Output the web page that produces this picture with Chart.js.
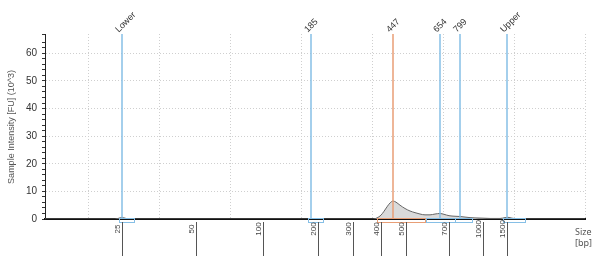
<!DOCTYPE html>
<html>
<head>
<meta charset="utf-8">
<script src="https://cdn.jsdelivr.net/npm/chart.js@4.4.0/dist/chart.umd.min.js"></script>
<style>
  html, body { margin: 0; padding: 0; background: #fff; }
</style>
</head>
<body>
<canvas id="chart" width="592" height="256"></canvas>
<script>
// run position (arbitrary units) vs intensity (10^3 FU)
const traceX = [0, 70, 74, 77, 80, 84, 200, 328, 332, 336, 339, 342, 345, 348, 351, 355, 360, 365, 370, 375, 380, 385, 390, 395, 399, 404, 410, 415, 420, 425, 430, 438, 445, 455, 460, 463, 467, 475, 540];
const traceY = [0, 0, 0.3, 0.6, 0.3, 0, 0, 0, 0.4, 1.4, 2.8, 4.4, 5.8, 6.5, 6.1, 5.0, 3.8, 2.9, 2.3, 1.8, 1.5, 1.5, 1.8, 2.0, 1.7, 1.2, 1.0, 0.9, 0.7, 0.5, 0.4, 0.3, 0.2, 0.2, 0.5, 0.6, 0.3, 0, 0];

const markerNames = ["Lower", "185", "447", "654", "799", "Upper"];
const markerPos = [77, 266, 348, 395, 415, 462];

const sizeLabels = [25, 50, 100, 200, 300, 400, 500, 700, 1000, 1500];
const sizePos = [77, 151, 218, 273, 308, 336, 361, 404, 438, 462];

const gridPos = [43, 114, 185, 256, 327, 398, 469, 540];

const regionStart = [74, 263, 332, 381, 410, 458];
const regionEnd = [89, 278, 380, 410, 427, 480];

const BLUE = "#86bfe6";
const ORANGE = "#e89e76";
const markerColor = i => (markerNames[i] === "447" ? ORANGE : BLUE);

const markerSets = markerPos.map((p, i) => ({
  label: markerNames[i],
  data: [{ x: p, y: 0 }, { x: p, y: 67 }],
  borderColor: markerColor(i),
  borderWidth: 1.5,
  pointRadius: 0,
  fill: false,
  order: 0
}));

const overlay = {
  id: "overlay",
  afterDatasetsDraw(chart) {
    const { ctx, chartArea } = chart;
    const xs = chart.scales.x;
    const base = chartArea.bottom;
    ctx.save();

    // peak regions under the baseline
    regionStart.forEach((s, i) => {
      const x1 = xs.getPixelForValue(s), x2 = xs.getPixelForValue(regionEnd[i]);
      ctx.strokeStyle = markerColor(i);
      ctx.lineWidth = 1;
      ctx.strokeRect(Math.round(x1) + 0.5, base - 0.5, Math.round(x2 - x1), 4);
    });

    // size ladder ticks
    ctx.font = "8px 'Liberation Sans', Arial, sans-serif";
    ctx.fillStyle = "#444";
    ctx.strokeStyle = "#555";
    sizePos.forEach((p, i) => {
      const x = Math.round(xs.getPixelForValue(p)) + 0.5;
      ctx.beginPath();
      ctx.moveTo(x, base + 3);
      ctx.lineTo(x, 256);
      ctx.stroke();
      ctx.save();
      ctx.translate(x - 5, 229);
      ctx.rotate(-Math.PI / 2);
      ctx.textAlign = "center";
      ctx.textBaseline = "middle";
      ctx.fillText(String(sizeLabels[i]), 0, 0);
      ctx.restore();
    });

    // marker labels at top
    ctx.font = "9px 'Liberation Sans', Arial, sans-serif";
    ctx.fillStyle = "#333";
    markerPos.forEach((p, i) => {
      const x = xs.getPixelForValue(p);
      ctx.save();
      ctx.translate(x - 5, chartArea.top - 3);
      ctx.rotate(-Math.PI / 4);
      ctx.textAlign = "left";
      ctx.textBaseline = "middle";
      ctx.fillText(markerNames[i], 0, 0);
      ctx.restore();
    });

    // y title
    ctx.save();
    ctx.font = "9px 'Liberation Sans', Arial, sans-serif";
    ctx.fillStyle = "#555";
    ctx.translate(12, 127);
    ctx.rotate(-Math.PI / 2);
    ctx.textAlign = "center";
    ctx.textBaseline = "middle";
    ctx.fillText("Sample Intensity [FU] (10^3)", 0, 0);
    ctx.restore();

    // x unit
    ctx.font = "9px 'Noto Sans', 'Open Sans', sans-serif";
    ctx.fillStyle = "#555";
    ctx.textAlign = "left";
    ctx.textBaseline = "middle";
    ctx.fillText("Size", 575, 232);
    ctx.fillText("[bp]", 575, 243);
    ctx.restore();
  }
};

new Chart(document.getElementById("chart"), {
  type: "line",
  data: {
    datasets: [
      ...markerSets,
      {
        label: "Sample",
        data: traceX.map((x, i) => ({ x, y: traceY[i] })),
        borderColor: "#666",
        borderWidth: 1,
        backgroundColor: "#dadada",
        fill: "origin",
        pointRadius: 0,
        cubicInterpolationMode: "monotone",
        order: 1
      }
    ]
  },
  options: {
    responsive: false,
    animation: false,
    events: [],
    layout: { padding: { left: 0, right: 7, top: 34, bottom: 0 } },
    plugins: { legend: { display: false }, tooltip: { enabled: false } },
    scales: {
      x: {
        type: "linear",
        min: 0,
        max: 540,
        afterBuildTicks: s => { s.ticks = gridPos.map(v => ({ value: v })); },
        afterFit: s => { s.height = 37; },
        ticks: { display: false },
        grid: { color: "#cfcfcf", lineWidth: 1, drawTicks: false },
        border: { color: "#111", width: 2, dash: [1, 2] }
      },
      y: {
        min: 0,
        max: 67,
        afterFit: s => { s.width = 45; },
        ticks: {
          stepSize: 2,
          autoSkip: false,
          padding: 5,
          color: "#333",
          font: { size: 10, family: "'Liberation Sans', Arial, sans-serif" },
          callback: v => (v % 10 === 0 ? v : "")
        },
        grid: {
          color: c => (c.tick && c.tick.value % 10 === 0 && c.tick.value > 0 ? "#cfcfcf" : "rgba(0,0,0,0)"),
          tickColor: "#333",
          tickLength: 3
        },
        border: { color: "#222", width: 1, dash: [1, 2] }
      }
    }
  },
  plugins: [overlay]
});
</script>
</body>
</html>
